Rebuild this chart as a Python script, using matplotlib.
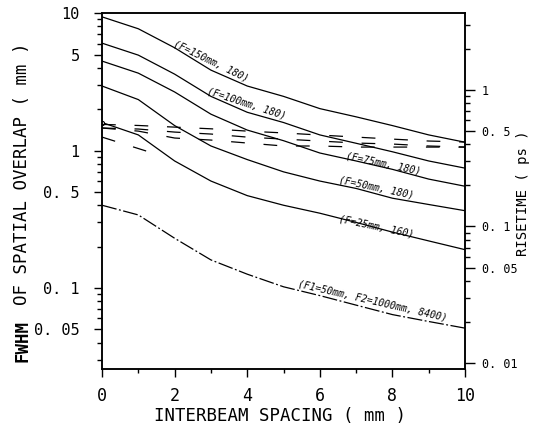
import matplotlib
matplotlib.use("Agg")
import matplotlib.pyplot as plt
from matplotlib.ticker import LogLocator, FixedLocator, FixedFormatter, NullFormatter

# interbeam spacing (mm)
spacing = [0, 1, 2, 3, 4, 5, 6, 7, 8, 9, 10]

# FWHM of spatial overlap (mm)
fwhm_f150 = [9.4, 7.7, 5.6, 3.85, 2.95, 2.48, 2.02, 1.76, 1.52, 1.3, 1.15]
fwhm_f100 = [6.05, 4.95, 3.6, 2.48, 1.9, 1.6, 1.3, 1.13, 0.98, 0.84, 0.745]
fwhm_f75 = [4.48, 3.66, 2.67, 1.84, 1.41, 1.18, 0.96, 0.84, 0.73, 0.62, 0.55]
fwhm_f50 = [2.95, 2.35, 1.52, 1.08, 0.86, 0.7, 0.6, 0.53, 0.45, 0.405, 0.365]
fwhm_f25 = [1.6, 1.3, 0.84, 0.6, 0.47, 0.4, 0.35, 0.3, 0.255, 0.22, 0.19]
fwhm_f1f2 = [0.4, 0.34, 0.23, 0.16, 0.126, 0.102, 0.088, 0.075, 0.064, 0.057, 0.051]

# risetime (ps), dashed curves
rise_a = [0.56, 0.55, 0.535, 0.52, 0.5, 0.485, 0.468, 0.452, 0.437, 0.423, 0.416]
rise_b = [0.527, 0.518, 0.492, 0.476, 0.452, 0.437, 0.423, 0.409, 0.402, 0.389, 0.382]
rise_c = [0.527, 0.5, 0.445, 0.43, 0.409, 0.389, 0.389, 0.382, 0.382, 0.382, 0.382]
rise_d_x = [0, 1.4]
rise_d = [0.452, 0.345]

left_ticks = [10, 5, 1, 0.5, 0.1, 0.05]
left_labels = ["10", "5", "1", "0. 5", "0. 1", "0. 05"]
right_ticks = [1, 0.5, 0.1, 0.05, 0.01]
right_labels = ["1", "0. 5", "0. 1", "0. 05", "0. 01"]
x_ticks = [0, 2, 4, 6, 8, 10]

curve_labels = [
    ("(F=150mm, 180)", 3.0, 4.48, -26),
    ("(F=100mm, 180)", 3.97, 2.21, -18),
    ("(F=75mm, 180)", 7.74, 0.81, -12),
    ("(F=50mm, 180)", 7.55, 0.534, -12),
    ("(F=25mm, 160)", 7.55, 0.278, -12),
    ("(F1=50mm, F2=1000mm, 8400)", 7.44, 0.080, -13),
]

plt.rcParams['font.family'] = 'DejaVu Sans Mono'

fig = plt.figure(figsize=(5.37, 4.25), dpi=100)
ax = fig.add_axes([0.190, 0.132, 0.676, 0.837])
ax2 = ax.twinx()

lw = 0.9
for vals in [fwhm_f150, fwhm_f100, fwhm_f75, fwhm_f50]:
    ax.plot(spacing, vals, color='black', lw=lw)
ax.plot(spacing, fwhm_f25, color='black', lw=lw, marker='o', markevery=[0],
        markersize=3, markerfacecolor='white', markeredgewidth=0.8)
ax.plot(spacing, fwhm_f1f2, color='black', lw=lw, dashes=(12, 2, 1.5, 2))

for vals in [rise_a, rise_b, rise_c]:
    ax2.plot(spacing, vals, color='black', lw=lw, dashes=(11, 15))
ax2.plot(rise_d_x, rise_d, color='black', lw=lw, dashes=(11, 15))

ax.set_xlim(0, 10)
ax.set_yscale('log')
ax.set_ylim(0.02576, 10)
ax2.set_yscale('log')
ax2.set_ylim(0.00904, 3.66)

ax.xaxis.set_major_locator(FixedLocator(x_ticks))
ax.xaxis.set_minor_locator(FixedLocator([1, 3, 5, 7, 9]))
ax.set_xticklabels([str(t) for t in x_ticks])

ax.yaxis.set_major_locator(FixedLocator(left_ticks))
ax.yaxis.set_major_formatter(FixedFormatter(left_labels))
ax.yaxis.set_minor_locator(LogLocator(base=10, subs=range(2, 10)))
ax.yaxis.set_minor_formatter(NullFormatter())

ax2.yaxis.set_major_locator(FixedLocator(right_ticks))
ax2.yaxis.set_major_formatter(FixedFormatter(right_labels))
ax2.yaxis.set_minor_locator(LogLocator(base=10, subs=range(2, 10)))
ax2.yaxis.set_minor_formatter(NullFormatter())

ax.tick_params(axis='y', which='major', direction='out', length=6, width=1,
               labelsize=11, pad=10)
ax.tick_params(axis='y', which='minor', direction='out', length=3.5, width=1)
ax.tick_params(axis='x', which='major', direction='out', length=6, width=1,
               labelsize=12, pad=7)
ax.tick_params(axis='x', which='minor', direction='out', length=3, width=1)
ax2.tick_params(axis='y', which='major', direction='out', length=7, width=1,
                labelsize=8.5, pad=5)
ax2.tick_params(axis='y', which='minor', direction='out', length=3.5, width=1)

for a in (ax, ax2):
    for s in a.spines.values():
        s.set_linewidth(1.1)

for text, x, y, ang in curve_labels:
    ax.text(x, y, text, rotation=ang, rotation_mode='anchor', ha='center',
            va='center', fontsize=7, style='italic')

fig.text(0.041, 1 - 362 / 425, "FWHM", rotation=90, ha='center', va='bottom',
         fontsize=12.5, weight='bold')
fig.text(0.041, 1 - 305 / 425, "OF SPATIAL OVERLAP ( mm )", rotation=90,
         ha='center', va='bottom', fontsize=12.5)
fig.text(0.521, 0.022, "INTERBEAM SPACING ( mm )", ha='center', va='center',
         fontsize=12.5)
fig.text(523 / 537, 1 - 193 / 425, "RISETIME ( ps )", rotation=90,
         ha='center', va='center', fontsize=10)

fig.savefig("out.png", dpi=100)
